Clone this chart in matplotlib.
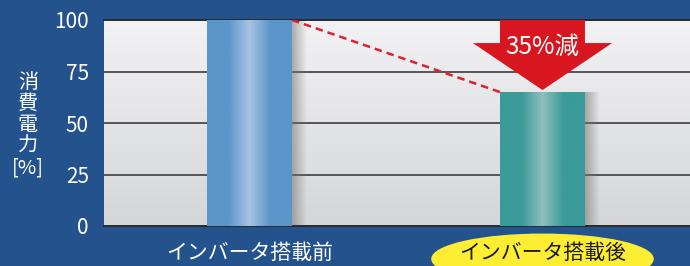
import matplotlib.pyplot as plt
from matplotlib.patches import Polygon, Ellipse
from matplotlib.colors import LinearSegmentedColormap
import numpy as np

plt.rcParams['font.family'] = ['Noto Sans CJK JP', 'DejaVu Sans']

# data
categories = ['インバータ搭載前', 'インバータ搭載後']
power = [100, 65]
yticks = [0, 25, 50, 75, 100]

navy = '#24528c'
bar_w = 0.29
xpos = np.arange(len(categories))

fig = plt.figure(figsize=(6.9, 2.66), dpi=100)
fig.patch.set_facecolor(navy)
ax = fig.add_axes([104 / 690, 1 - 226 / 266, 1 - 104 / 690 + 0.001, 206 / 266])
ax.set_xlim(-0.497, 1.506)
ax.set_ylim(0, 100)

# plot background gradient
bg = LinearSegmentedColormap.from_list('bg', ['#d5d6d8', '#f2f2f4'])
ax.imshow(np.linspace(0, 1, 100).reshape(-1, 1), cmap=bg, aspect='auto',
          extent=[-0.497, 1.506, 0, 100], origin='lower', zorder=0)

for y in yticks[1:-1]:
    ax.axhline(y, color='#4a4a4a', lw=1.3, zorder=1)

bars = ax.bar(xpos, power, width=bar_w, color='none', zorder=3)

cmaps = [
    LinearSegmentedColormap.from_list('b1', ['#5a96c9', '#5a96c9', '#a9c4e4', '#5a96c9', '#5a96c9']),
    LinearSegmentedColormap.from_list('b2', ['#3a9b99', '#3a9b99', '#8fbfbe', '#3a9b99', '#3a9b99']),
]
grad = np.linspace(0, 1, 200).reshape(1, -1)
for b, cm in zip(bars, cmaps):
    x0, w, h = b.get_x(), b.get_width(), b.get_height()
    im = ax.imshow(grad, cmap=cm, aspect='auto', extent=[x0, x0 + w, 0, h], zorder=3)
    im.set_clip_path(b)
    # soft shadow on the right side
    sh = np.zeros((1, 50, 4))
    sh[..., :3] = 0.45
    sh[..., 3] = np.linspace(0.55, 0, 50)
    ax.imshow(sh, aspect='auto', extent=[x0 + w, x0 + w + 0.05, 0, h], zorder=2)

# dashed line between bar tops
ax.plot([bars[0].get_x() + bar_w, bars[1].get_x()], power, ls=(0, (3, 2)),
        color='#e0202a', lw=1.8, zorder=4)

# arrow showing reduction
cx = xpos[1]
head_w = 0.475
head_top = 88.8
tip = power[1] + 1
arrow = Polygon([
    (cx - bar_w / 2, 100), (cx + bar_w / 2, 100), (cx + bar_w / 2, head_top),
    (cx + head_w / 2, head_top), (cx, tip), (cx - head_w / 2, head_top),
    (cx - bar_w / 2, head_top)], closed=True, color='#d7161f', zorder=5, lw=0)
ax.add_patch(arrow)
reduction = power[0] - power[1]
ax.text(cx, 87, f'{reduction}%減', color='white', fontsize=17.5,
        ha='center', va='center', zorder=6)

for s in ['left', 'right']:
    ax.spines[s].set_visible(False)
for s in ['top', 'bottom']:
    ax.spines[s].set_color('#2a2a2a')
    ax.spines[s].set_linewidth(1.4)

ax.set_yticks(yticks)
ax.set_yticklabels([str(t) for t in yticks], color='white', fontsize=15)
ax.tick_params(axis='y', length=0, pad=11)
ax.set_xticks([])

# x labels
ax.text(xpos[0], -13, categories[0], color='white', fontsize=15,
        ha='center', va='center', clip_on=False)
ell = Ellipse((xpos[1], -16), 0.755, 24, color='#fdee34', clip_on=False, zorder=5)
ax.add_patch(ell)
ax.text(xpos[1], -13, categories[1], color='#1a1a1a', fontsize=15,
        ha='center', va='center', clip_on=False, zorder=6)

# y label, stacked characters
fig.text(28 / 690, 1 - 125 / 266, '消\n費\n電\n力\n[%]', color='white',
         fontsize=14.5, ha='center', va='center', linespacing=1.02)

fig.savefig('out.png', dpi=100, facecolor=navy)
